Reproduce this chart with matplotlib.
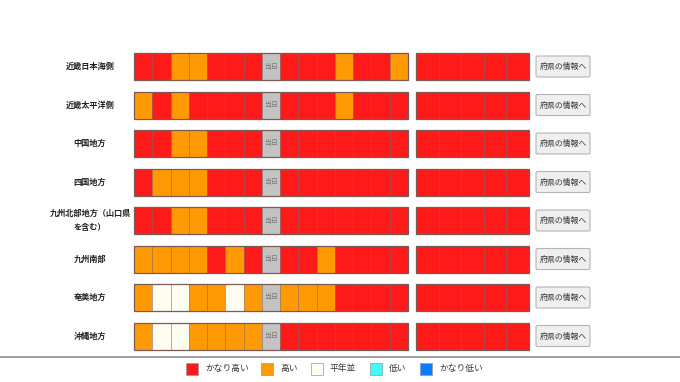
import matplotlib
matplotlib.use("Agg")
import matplotlib.pyplot as plt
from matplotlib.patches import Rectangle, FancyBboxPatch

plt.rcParams["font.family"] = ["Noto Sans CJK JP", "DejaVu Sans"]

# data
regions = ["近畿日本海側", "近畿太平洋側", "中国地方", "四国地方",
           "九州北部地方（山口県\nを含む）", "九州南部", "奄美地方", "沖縄地方"]
# 0=かなり低い 1=低い 2=平年並 3=高い 4=かなり高い, -1 = 当日
early = [
    [4, 4, 3, 3, 4, 4, 4, -1, 4, 4, 4, 3, 4, 4, 3],
    [3, 4, 3, 4, 4, 4, 4, -1, 4, 4, 4, 3, 4, 4, 4],
    [4, 4, 3, 3, 4, 4, 4, -1, 4, 4, 4, 4, 4, 4, 4],
    [4, 3, 3, 3, 4, 4, 4, -1, 4, 4, 4, 4, 4, 4, 4],
    [4, 4, 3, 3, 4, 4, 4, -1, 4, 4, 4, 4, 4, 4, 4],
    [3, 3, 3, 3, 4, 3, 4, -1, 4, 4, 3, 4, 4, 4, 4],
    [3, 2, 2, 3, 3, 2, 3, -1, 3, 3, 3, 4, 4, 4, 4],
    [3, 2, 2, 3, 3, 3, 3, -1, 4, 4, 4, 4, 4, 4, 4],
]
late = [[4, 4, 4, 4, 4] for _ in regions]
levels = ["かなり低い", "低い", "平年並", "高い", "かなり高い"]
level_colors = ["#0A7CFF", "#41FAFA", "#FFFDF0", "#FF9A05", "#FF1A1A"]
legend_order = [4, 3, 2, 1, 0]
today_label = "当日"
button_label = "府県の情報へ"

fig = plt.figure(figsize=(6.8, 3.82), dpi=100)
ax = fig.add_axes([0, 0, 1, 1])
ax.set_xlim(0, 680)
ax.set_ylim(382, 0)
ax.axis("off")

row0, row_step, cell_h = 66.5, 38.5, 27
x_early, w_early = 134, 274 / 15
x_late, w_late = 416, 113 / 5
edge = "#7a5a52"
inner = (0.35, 0.25, 0.25, 0.45)

for r, name in enumerate(regions):
    yc = row0 + r * row_step
    top = yc - cell_h / 2
    ax.text(90, yc, name, ha="center", va="center", fontsize=5.9,
            fontweight="bold", color="#222222", linespacing=1.7)
    for i, v in enumerate(early[r]):
        x = x_early + i * w_early
        fc = "#C3C3C3" if v < 0 else level_colors[v]
        ax.add_patch(Rectangle((x, top), w_early, cell_h, fc=fc,
                               ec=inner, lw=0.5))
        if v < 0:
            ax.text(x + w_early / 2, yc, today_label, ha="center",
                    va="center", fontsize=5, color="#777777")
    ax.add_patch(Rectangle((x_early, top), w_early * len(early[r]), cell_h,
                           fc="none", ec=edge, lw=0.9))
    for i, v in enumerate(late[r]):
        x = x_late + i * w_late
        ax.add_patch(Rectangle((x, top), w_late, cell_h, fc=level_colors[v],
                               ec=inner, lw=0.5))
    ax.add_patch(Rectangle((x_late, top), w_late * len(late[r]), cell_h,
                           fc="none", ec=edge, lw=0.9))
    ax.add_patch(FancyBboxPatch((536, yc - 10.5), 54, 21,
                                boxstyle="round,pad=0,rounding_size=1.5",
                                fc="#EFEFEF", ec="#B5B5B5", lw=0.8))
    ax.text(563, yc, button_label, ha="center", va="center",
            fontsize=5.7, color="#333333")

ax.axhline(357, color="#8f8f8f", lw=1.2)

legend_x = [186, 261, 311, 370, 420]
for lx, k in zip(legend_x, legend_order):
    ax.add_patch(Rectangle((lx, 363), 12, 12, fc=level_colors[k],
                           ec="#999999", lw=0.5))
    ax.text(lx + 19, 369, levels[k], ha="left", va="center",
            fontsize=6.3, color="#333333")

fig.savefig("out.png", dpi=100)
